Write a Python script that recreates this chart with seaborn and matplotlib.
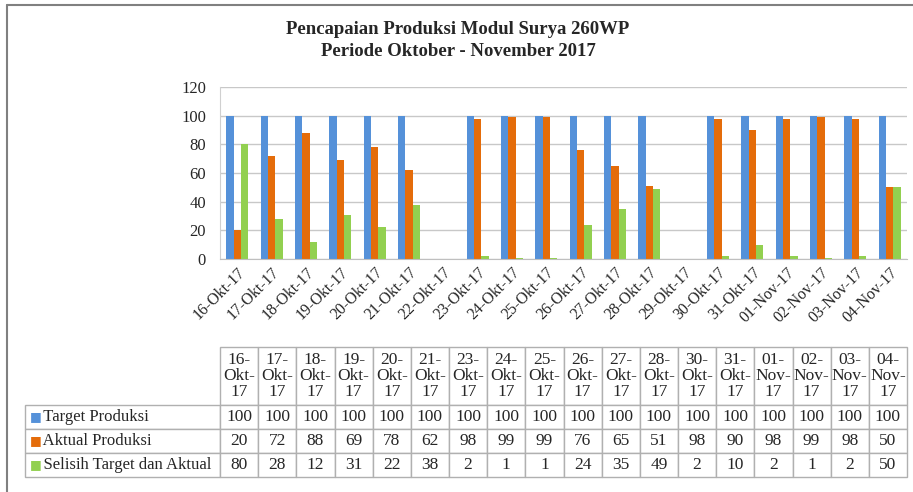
import numpy as np
import pandas as pd
import seaborn as sns
import matplotlib.pyplot as plt
from matplotlib.lines import Line2D

# tanggal pada sumbu x (22 dan 29 Okt kosong, hari Minggu)
axis_dates = ['16-Okt-17', '17-Okt-17', '18-Okt-17', '19-Okt-17', '20-Okt-17',
              '21-Okt-17', '22-Okt-17', '23-Okt-17', '24-Okt-17', '25-Okt-17',
              '26-Okt-17', '27-Okt-17', '28-Okt-17', '29-Okt-17', '30-Okt-17',
              '31-Okt-17', '01-Nov-17', '02-Nov-17', '03-Nov-17', '04-Nov-17']

# tanggal yang ada datanya (kolom tabel)
dates = ['16-Okt-17', '17-Okt-17', '18-Okt-17', '19-Okt-17', '20-Okt-17',
         '21-Okt-17', '23-Okt-17', '24-Okt-17', '25-Okt-17', '26-Okt-17',
         '27-Okt-17', '28-Okt-17', '30-Okt-17', '31-Okt-17', '01-Nov-17',
         '02-Nov-17', '03-Nov-17', '04-Nov-17']

target = [100, 100, 100, 100, 100, 100, 100, 100, 100, 100, 100, 100, 100, 100, 100, 100, 100, 100]
aktual = [20, 72, 88, 69, 78, 62, 98, 99, 99, 76, 65, 51, 98, 90, 98, 99, 98, 50]
selisih = [80, 28, 12, 31, 22, 38, 2, 1, 1, 24, 35, 49, 2, 10, 2, 1, 2, 50]

series = ['Target Produksi', 'Aktual Produksi', 'Selisih Target dan Aktual']
colors = ['#5591D9', '#E46C0A', '#92D050']

df = pd.DataFrame({'Tanggal': dates, series[0]: target, series[1]: aktual, series[2]: selisih})
long_df = df.melt(id_vars='Tanggal', var_name='Seri', value_name='Nilai')

sns.set_style('white')
plt.rcParams['font.family'] = ['Liberation Serif', 'DejaVu Serif']

W, H = 913, 492
fig = plt.figure(figsize=(W / 100, H / 100), dpi=100)

# plot utama
ax = fig.add_axes([220 / W, 1 - 259 / H, 687 / W, 172 / H])
sns.barplot(data=long_df, x='Tanggal', y='Nilai', hue='Seri', order=axis_dates,
            hue_order=series, palette=colors, width=0.64, gap=0, saturation=1,
            edgecolor='none', legend=False, ax=ax)
ax.set_ylim(0, 120)
ax.set_yticks(range(0, 121, 20))
ax.set_xlim(-0.5, len(axis_dates) - 0.5)
ax.grid(axis='y', color='#C8C8C8', linewidth=1)
ax.set_axisbelow(True)
for s in ['top', 'right']:
    ax.spines[s].set_visible(False)
ax.spines['left'].set_color('#D0D0D0')
ax.spines['bottom'].set_color('#BFBFBF')
ax.set_xlabel('')
ax.set_ylabel('')
ax.tick_params(axis='y', labelsize=12, length=0, pad=10)
ax.tick_params(axis='x', labelsize=11.5, length=0, pad=4)
plt.setp(ax.get_xticklabels(), rotation=45, ha='right', rotation_mode='anchor')

fig.text(458 / W, 1 - 30 / H, 'Pencapaian Produksi Modul Surya 260WP',
         ha='center', va='center', fontsize=13.5, fontweight='bold')
fig.text(458 / W, 1 - 52 / H, 'Periode Oktober - November 2017',
         ha='center', va='center', fontsize=13.5, fontweight='bold')

# tabel data (axes tabel = area pixel 25..907 x 347..477)
tab_w, tab_h = 882, 130
lab_w = 195
head_h, row_h = 58, 24
col_w = (tab_w - lab_w) / len(dates)

tax = fig.add_axes([25 / W, 1 - 477 / H, tab_w / W, tab_h / H])
tax.axis('off')
col_labels = [''] + [d.replace('-', '-\n') for d in dates]
cell_text = [['    ' + series[0]] + [str(v) for v in target],
             ['    ' + series[1]] + [str(v) for v in aktual],
             ['    ' + series[2]] + [str(v) for v in selisih]]
tbl = tax.table(cellText=cell_text, colLabels=col_labels,
                cellLoc='center', colLoc='center', bbox=[0, 0, 1, 1])
tbl.auto_set_font_size(False)
tbl.set_fontsize(12.5)
for (r, c), cell in tbl.get_celld().items():
    cell.set_edgecolor('#B0B0B0')
    cell.set_linewidth(1)
    cell.set_height((head_h if r == 0 else row_h) / tab_h)
    cell.set_width((lab_w if c == 0 else col_w) / tab_w)
    cell.PAD = 0.01
    if c == 0:
        cell.get_text().set_horizontalalignment('left')
        cell.get_text().set_fontsize(12)
        if r == 0:
            cell.visible_edges = 'open'
    if r == 0:
        cell.get_text().set_linespacing(1.0)

for i, col in enumerate(colors):
    yc = 1 - (head_h + row_h * (i + 0.5)) / tab_h
    tax.text(5 / tab_w, yc, '\u25A0', color=col, fontsize=9, family='DejaVu Sans',
             ha='left', va='center', transform=tax.transAxes)

# bingkai luar
fig.add_artist(Line2D([7 / W, 7 / W], [0, 1 - 5 / H], color='#808080', linewidth=1.5))
fig.add_artist(Line2D([7 / W, 1], [1 - 5 / H, 1 - 5 / H], color='#808080', linewidth=1.5))

fig.savefig('out.png', dpi=100)
